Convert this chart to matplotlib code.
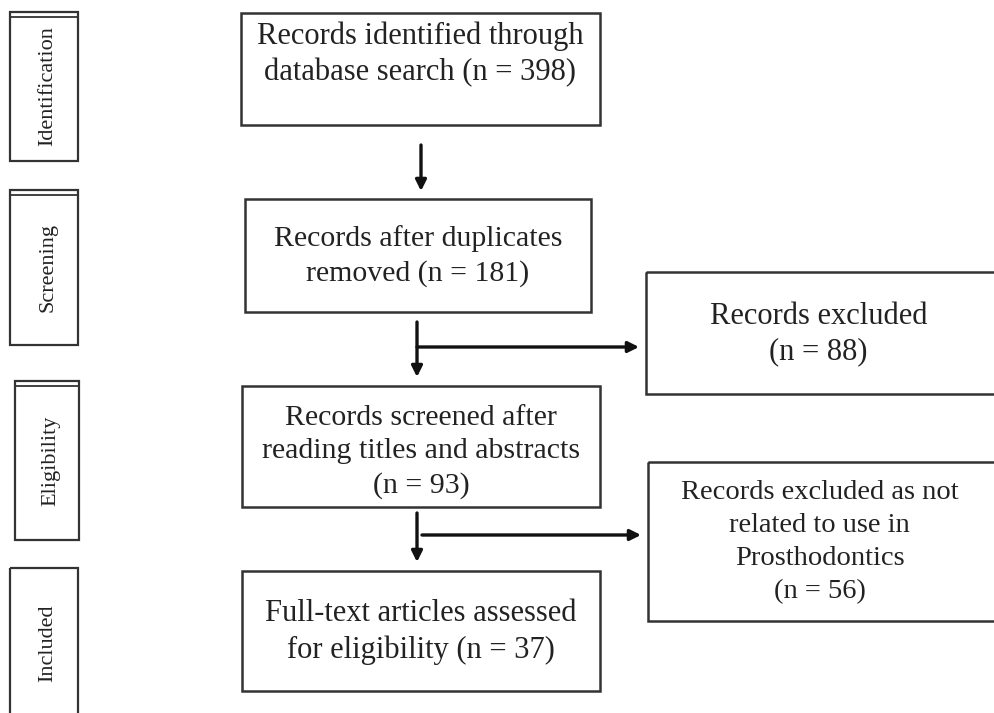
import matplotlib
matplotlib.use("Agg")
import matplotlib.pyplot as plt
from matplotlib.patches import Rectangle, FancyArrowPatch

# ---- data ----
stages = ["Identification", "Screening", "Eligibility", "Included"]
main_labels = [
    "Records identified through\ndatabase search",
    "Records after duplicates\nremoved",
    "Records screened after\nreading titles and abstracts",
    "Full-text articles assessed\nfor eligibility",
]
main_counts = [398, 181, 93, 37]
main_sep = [" ", " ", "\n", " "]
excluded_labels = [
    "Records excluded",
    "Records excluded as not\nrelated to use in\nProsthodontics",
]
excluded_counts = [88, 56]

# ---- layout (pixel space) ----
W, H = 995, 713
stage_boxes = [(10, 12, 68, 149, True), (10, 190, 68, 155, True),
               (15, 381, 64, 159, True), (10, 568, 68, 160, False)]
main_boxes = [(241, 13, 359, 112), (245, 199, 346, 113),
              (242, 386, 358, 121), (242, 571, 358, 120)]
main_text_y = [54, 256, 452, 632]
main_fs = [22, 21.5, 21.5, 22]
excl_boxes = [(646, 272, 360, 122), (648, 462, 360, 159)]
excl_text_y = [334, 542]
excl_fs = [22, 20.5]

fig = plt.figure(figsize=(W / 100, H / 100), dpi=100)
ax = fig.add_axes([0, 0, 1, 1])
ax.set_xlim(0, W)
ax.set_ylim(H, 0)
ax.axis("off")

font = ["Liberation Serif", "DejaVu Serif"]
edge = "#333333"
tcol = "#222222"
LINE_PX = 35.0


def ls_for(fs):
    return LINE_PX / (0.87 * fs * 100 / 72)


for (x, y, w, h, dbl), name in zip(stage_boxes, stages):
    ax.add_patch(Rectangle((x, y), w, h, fill=False, ec=edge, lw=1.6))
    if dbl:
        ax.plot([x, x + w], [y + 5, y + 5], color=edge, lw=1.3)
    cy = y + h / 2 if dbl else 643
    ax.text(x + w / 2 + 4, cy, name, rotation=90, ha="center", va="center",
            fontsize=16, family=font, color=tcol)

for (x, y, w, h), lab, n, sep, ty, fs in zip(main_boxes, main_labels,
                                             main_counts, main_sep,
                                             main_text_y, main_fs):
    ax.add_patch(Rectangle((x, y), w, h, fill=False, ec=edge, lw=1.8))
    ax.text(x + w / 2, ty, f"{lab}{sep}(n = {n})", ha="center", va="center",
            fontsize=fs, family=font, color=tcol, linespacing=ls_for(fs))

for (x, y, w, h), lab, n, ty, fs in zip(excl_boxes, excluded_labels,
                                        excluded_counts, excl_text_y, excl_fs):
    ax.add_patch(Rectangle((x, y), w, h, fill=False, ec=edge, lw=1.8))
    ax.text(x + (995 - x) / 2 - 2, ty, f"{lab}\n(n = {n})", ha="center",
            va="center", fontsize=fs, family=font, color=tcol,
            linespacing=ls_for(fs))


def arrow(x0, y0, x1, y1):
    ax.add_patch(FancyArrowPatch((x0, y0), (x1, y1), arrowstyle="-|>",
                                 mutation_scale=16, lw=2.4, color="#111111",
                                 shrinkA=0, shrinkB=0))


arrow(421, 145, 421, 191)
arrow(417, 322, 417, 377)
arrow(417, 347, 639, 347)
arrow(417, 513, 417, 562)
arrow(422, 535, 641, 535)

fig.savefig("out.png", dpi=100, facecolor="white")
